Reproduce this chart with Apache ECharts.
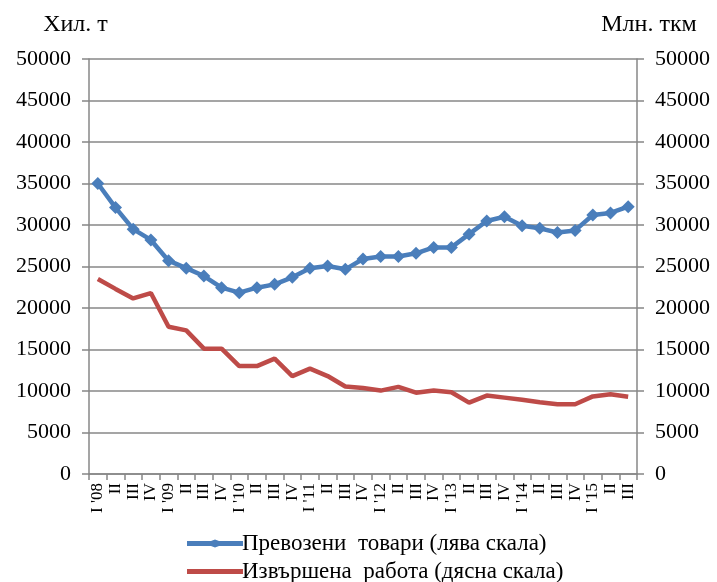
<!DOCTYPE html>
<html>
<head>
<meta charset="utf-8">
<script src="https://cdn.jsdelivr.net/npm/echarts@6/dist/echarts.min.js"></script>
<style>html,body{margin:0;padding:0;background:#fff;}#c{width:717px;height:582px;}</style>
</head>
<body>
<div id="c"></div>
<script>
const categories = ["I '08","II","III","IV","I '09","II","III","IV","I '10","II","III","IV","I '11","II","III","IV","I '12","II","III","IV","I '13","II","III","IV","I '14","II","III","IV","I '15","II","III"];
const goods = [35000,32100,29500,28200,25700,24800,23850,22450,21850,22450,22850,23700,24780,25060,24660,25900,26200,26200,26590,27300,27300,28900,30480,31000,29900,29600,29100,29350,31200,31450,32200];
const work = [23500,22300,21150,21800,17750,17300,15100,15100,13000,13000,13900,11800,12700,11800,10550,10350,10050,10500,9800,10050,9850,8600,9450,9200,8950,8650,8400,8400,9350,9600,9300];
const seriesNames = ["Превозени  товари (лява скала)", "Извършена  работа (дясна скала)"];
const leftName = "Хил. т";
const rightName = "Млн. ткм";

const FONT = "Liberation Serif";
const GRID = "#878787";
const BLUE = '#4a7ebb', RED = '#be4b48';
const chart = echarts.init(document.getElementById('c'), null, {renderer: 'canvas'});
const yCommon = {
  type: 'value', min: 0, max: 50000, interval: 5000,
  axisLine: {show: true, lineStyle: {color: GRID, width: 1.5}},
  axisTick: {show: true, length: 7, lineStyle: {color: GRID, width: 1.5}},
  axisLabel: {color: '#000', fontFamily: FONT, fontSize: 22, margin: 18, formatter: v => String(v)},
  nameLocation: 'end', nameGap: 22
};
const legendText = {color: '#000', fontFamily: FONT, fontSize: 23, padding: [0,0,0,-6]};
chart.setOption({
  animation: false,
  backgroundColor: '#fff',
  grid: {left: 89, right: 80, top: 59, bottom: 108, containLabel: false},
  legend: [
    {left: 182, top: 527, itemWidth: 56, itemHeight: 8, textStyle: legendText,
     data: [{name: seriesNames[0], icon: 'path://M0,1.5 L24,1.5 L28,0 L32,1.5 L56,1.5 L56,6.5 L32,6.5 L28,8 L24,6.5 L0,6.5 Z'}]},
    {left: 182, top: 555, itemWidth: 56, itemHeight: 5, textStyle: legendText,
     data: [{name: seriesNames[1], icon: 'path://M0,0 L56,0 L56,5 L0,5 Z'}]}
  ],
  xAxis: {
    type: 'category', data: categories, boundaryGap: true,
    axisLine: {lineStyle: {color: GRID, width: 1.5}},
    axisTick: {show: true, length: 6, interval: 0, lineStyle: {color: GRID, width: 1.5}},
    axisLabel: {interval: 0, rotate: 90, color: '#000', fontFamily: FONT, fontSize: 17, margin: 9}
  },
  yAxis: [
    Object.assign({}, yCommon, {position: 'left', name: leftName,
      nameTextStyle: {color: '#000', fontFamily: FONT, fontSize: 24, align: 'center', padding: [0, 0, 0, -27]},
      splitLine: {show: true, lineStyle: {color: GRID, width: 1.5}}}),
    Object.assign({}, yCommon, {position: 'right', name: rightName,
      nameTextStyle: {color: '#000', fontFamily: FONT, fontSize: 24, align: 'center', padding: [0, 0, 0, 24]},
      splitLine: {show: false}})
  ],
  series: [
    {name: seriesNames[0], type: 'line', yAxisIndex: 0, data: goods,
     symbol: 'diamond', symbolSize: 13, showAllSymbol: true,
     lineStyle: {color: BLUE, width: 4.5}, itemStyle: {color: BLUE}},
    {name: seriesNames[1], type: 'line', yAxisIndex: 1, data: work,
     symbol: 'none',
     lineStyle: {color: RED, width: 4.5}, itemStyle: {color: RED}}
  ]
});
</script>
</body>
</html>
